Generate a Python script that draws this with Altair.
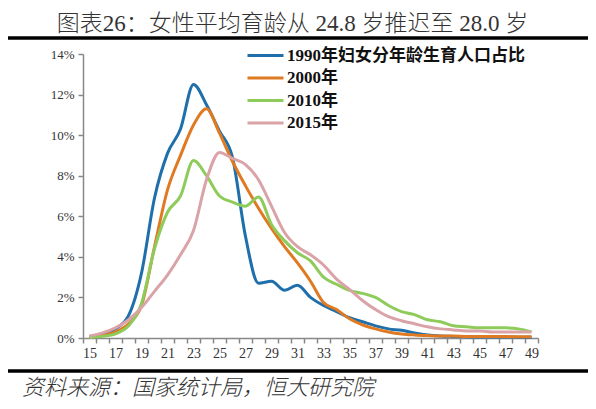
import altair as alt
import pandas as pd

ages = list(range(15, 50))
series_names = ["1990年妇女分年龄生育人口占比", "2000年", "2010年", "2015年"]
colors = ["#1f6fab", "#e07a22", "#8fcb5a", "#d9a3a8"]

v1990 = [0.05, 0.2, 0.45, 1.1, 3.2, 6.9, 9.1, 10.3, 12.5, 11.5, 10.2, 8.9, 5.0, 2.7, 2.8,
         2.35, 2.6, 2.0, 1.6, 1.3, 1.0, 0.8, 0.6, 0.45, 0.38, 0.25, 0.15, 0.1, 0.08, 0.06,
         0.05, 0.05, 0.05, 0.04, 0.04]
v2000 = [0.05, 0.12, 0.3, 0.7, 1.6, 4.5, 7.3, 9.0, 10.5, 11.3, 10.1, 8.7, 7.5, 6.4, 5.4,
         4.5, 3.7, 2.8, 1.75, 1.4, 0.95, 0.65, 0.45, 0.3, 0.2, 0.15, 0.12, 0.1, 0.1, 0.08,
         0.08, 0.07, 0.07, 0.06, 0.06]
v2010 = [0.03, 0.08, 0.2, 0.6, 1.7, 4.4, 6.2, 7.0, 8.75, 8.0, 7.0, 6.7, 6.5, 6.95, 5.6,
         4.8, 4.2, 3.8, 3.0, 2.65, 2.35, 2.2, 2.0, 1.6, 1.3, 1.15, 0.9, 0.8, 0.6, 0.55,
         0.5, 0.5, 0.5, 0.45, 0.3]
v2015 = [0.1, 0.25, 0.5, 0.9, 1.5, 2.3, 3.1, 4.1, 5.3, 7.8, 9.15, 8.85, 8.55, 7.8, 6.5,
         5.2, 4.5, 4.1, 3.6, 2.9, 2.4, 1.85, 1.4, 1.05, 0.85, 0.7, 0.55, 0.45, 0.4, 0.35,
         0.35, 0.3, 0.3, 0.3, 0.3]

rows = []
for name, vals in zip(series_names, [v1990, v2000, v2010, v2015]):
    for a, v in zip(ages, vals):
        rows.append({"age": a, "value": v, "series": name})
df = pd.DataFrame(rows)

W, H = 455, 284
serif = "Liberation Serif, Noto Sans CJK SC"
cjk = "Noto Sans CJK SC"

lines = alt.Chart(df).mark_line(strokeWidth=3, interpolate="monotone").encode(
    x=alt.X("age:O", bandPosition=0.5,
            scale=alt.Scale(type="band", paddingInner=0, paddingOuter=0),
            axis=alt.Axis(title=None, labelAngle=0, tickBand="extent",
                          labelExpr="datum.value % 2 == 1 ? datum.label : ''",
                          labelFont="Liberation Serif", labelFontSize=14, labelColor="#333",
                          labelPadding=3, tickSize=5, tickColor="#888", domainColor="#888",
                          domainWidth=1.5, tickWidth=1.5, grid=False)),
    y=alt.Y("value:Q", scale=alt.Scale(domain=[0, 14], nice=False),
            axis=alt.Axis(title=None, values=[0, 2, 4, 6, 8, 10, 12, 14],
                          labelExpr="datum.value + '%'", labelFont="Liberation Serif",
                          labelFontSize=13, labelColor="#333", labelPadding=4,
                          tickSize=5, tickColor="#888", domainColor="#888",
                          domainWidth=1.5, tickWidth=1.5, grid=False)),
    color=alt.Color("series:N", sort=series_names,
                    scale=alt.Scale(domain=series_names, range=colors),
                    legend=alt.Legend(title=None, orient="none", legendX=174, legendY=-7,
                                      symbolType="M-3,0H3", symbolSize=144,
                                      symbolStrokeWidth=3, labelOffset=13,
                                      labelFont=serif, labelFontSize=17,
                                      labelFontWeight="bold", labelColor="#111",
                                      rowPadding=4.5, padding=0, labelLimit=400)),
)

one = pd.DataFrame({"k": [0]})

rule_top = alt.Chart(one).mark_rule(color="#000", strokeWidth=3.5).encode(
    x=alt.value(-78), x2=alt.value(505), y=alt.value(-16))
rule_bot = alt.Chart(one).mark_rule(color="#000", strokeWidth=3.5).encode(
    x=alt.value(-78), x2=alt.value(505), y=alt.value(317))

footer = alt.Chart(one).mark_text(
    text="资料来源：国家统计局，恒大研究院", font=cjk, fontSize=22, fontStyle="italic",
    fontWeight=300, color="#333", align="left", baseline="middle"
).encode(x=alt.value(-61), y=alt.value(334))

chart = alt.layer(lines, rule_top, rule_bot, footer).properties(
    width=W, height=H,
    title=alt.TitleParams(text="图表26：女性平均育龄从 24.8 岁推迟至 28.0 岁",
                          font=serif, fontSize=23, fontWeight=300, color="#333",
                          anchor="middle", offset=0, dx=-18),
    autosize=alt.AutoSizeParams(type="none"),
    padding={"left": 75, "top": 46, "right": 50, "bottom": 63},
).configure_view(stroke=None)

chart.save("out.html", embed_options={"renderer": "svg", "actions": False})
